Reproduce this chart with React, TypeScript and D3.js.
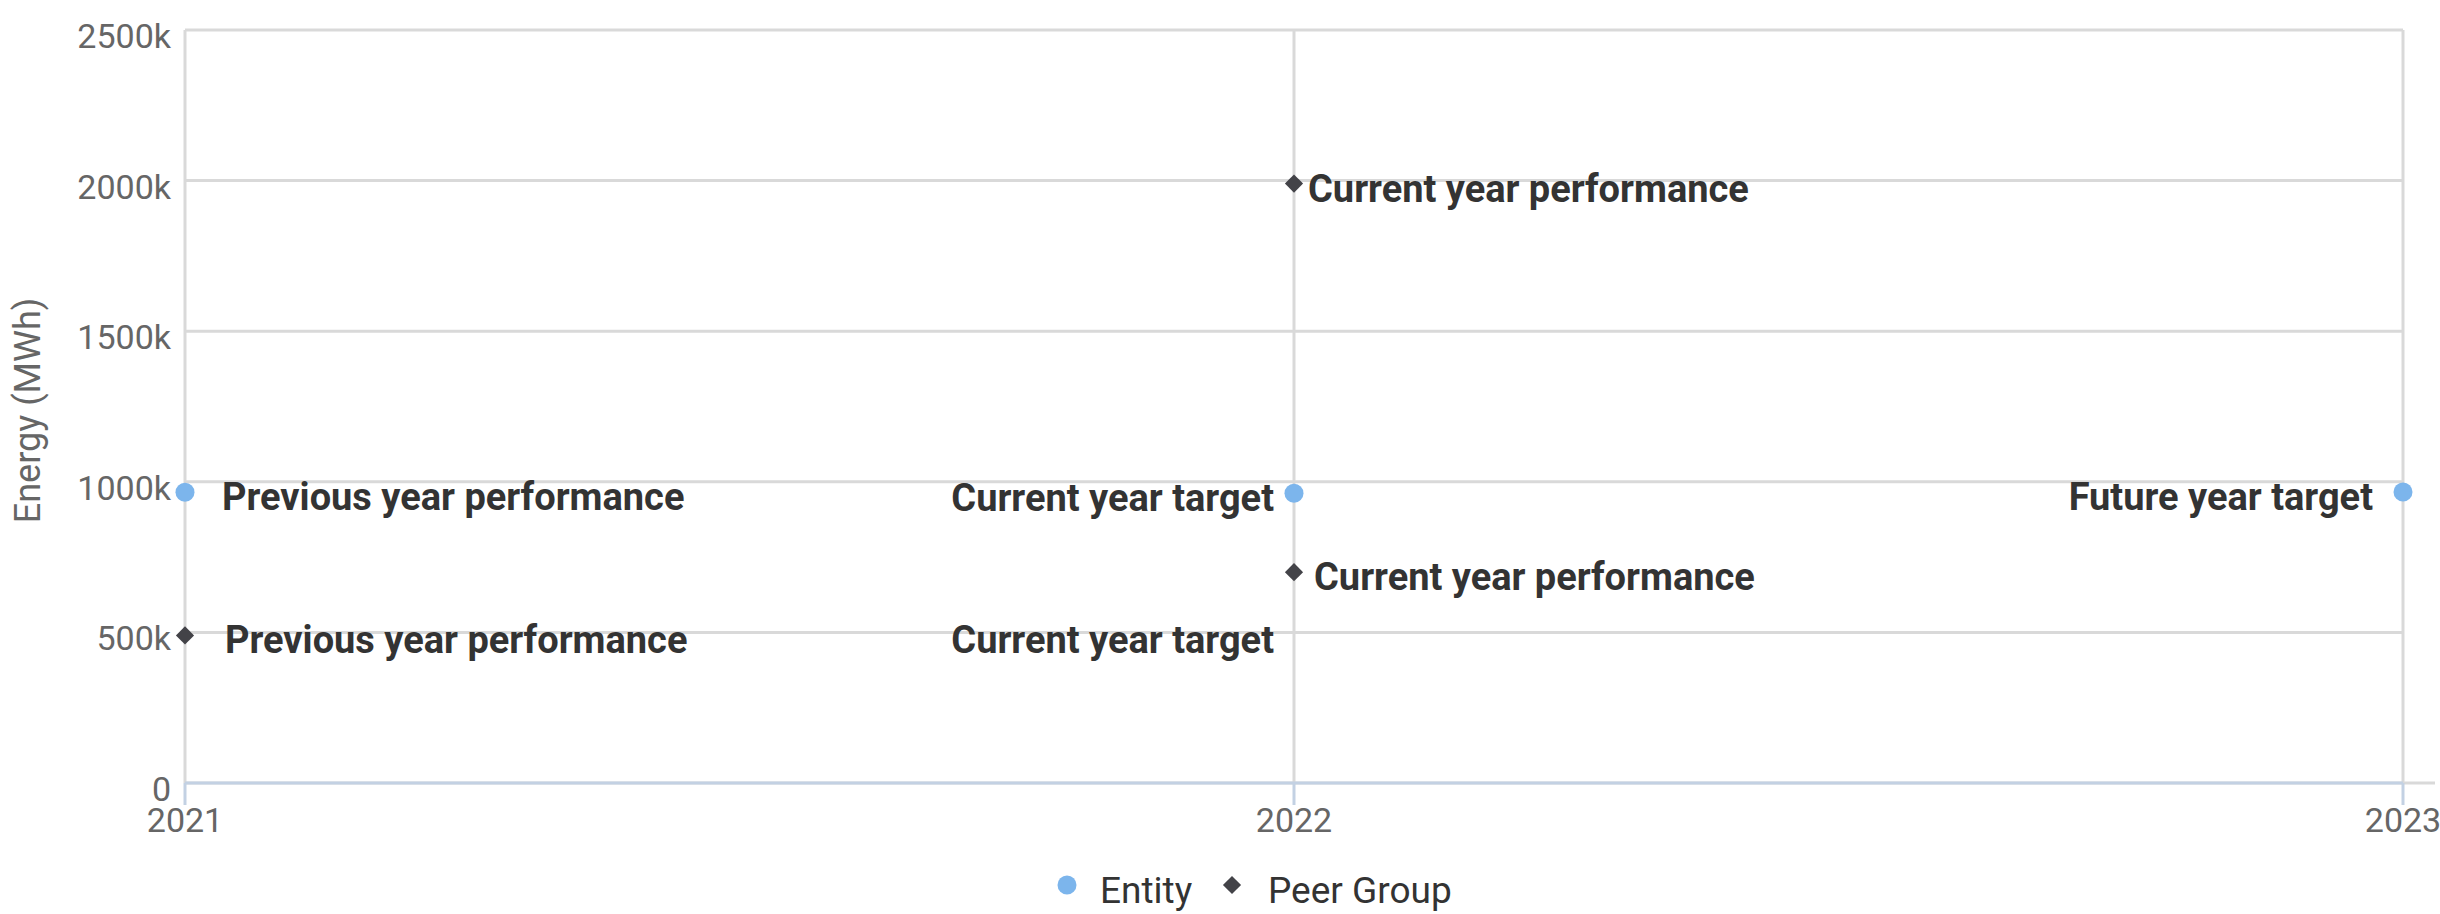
import * as d3 from 'd3';
import React from 'react';

// categories and values
const years = ['2021', '2022', '2023'];
const yTicks = [0, 500000, 1000000, 1500000, 2000000, 2500000];

const entityYears = ['2021', '2022', '2023'];
const entityValues = [965000, 962000, 966000];
const entityLabels = ['Previous year performance', 'Current year target', 'Future year target'];

const peerYears = ['2021', '2022', '2022', '2022'];
const peerValues = [490000, 490000, 700000, 1990000];
const peerLabels = [
	'Previous year performance',
	'Current year target',
	'Current year performance',
	'Current year performance',
];
const peerMarker = [true, false, true, true];

const width = 2440;
const height = 914;
const plot = { left: 185, right: 2403, top: 30, bottom: 783 };

// label offsets from their point (layout only)
const entityShift = [37, -20, -30];
const peerShift = [40, -20, 20, 14];

const entityColor = '#7cb5ec';
const peerColor = '#434348';
const gridColor = '#d9d9d9';
const axisColor = '#c3d1e3';
const labelFont = 'Roboto, "Noto Sans", sans-serif';

const App = () => {
	const x = d3.scalePoint<string>().domain(years).range([plot.left, plot.right]);
	const y = d3.scaleLinear().domain([0, 2500000]).range([plot.bottom, plot.top]);
	const fmt = (v: number) => (v === 0 ? '0' : `${v / 1000}k`);
	const square = d3.symbol().type(d3.symbolSquare).size(165)() as string;

	const dataLabel = (text: string, px: number, py: number, dx: number, key: string) => (
		<text
			key={key}
			x={px + dx}
			y={py + 18}
			textAnchor={dx < 0 ? 'end' : 'start'}
			fontFamily={labelFont}
			fontWeight="bold"
			fontSize={38}
			fill="#333333"
		>
			{text}
		</text>
	);

	return (
		<svg width={width} height={height} style={{ position: 'absolute', left: 0, top: 0, background: '#fff' }}>
			{/* grid */}
			{yTicks.map(t => (
				<line
					key={'h' + t}
					x1={plot.left}
					x2={t === 0 ? 2435 : plot.right}
					y1={y(t)}
					y2={y(t)}
					stroke={gridColor}
					strokeWidth={3}
				/>
			))}
			{years.map(yr => (
				<line
					key={'v' + yr}
					x1={x(yr)}
					x2={x(yr)}
					y1={plot.top}
					y2={plot.bottom}
					stroke={gridColor}
					strokeWidth={3}
				/>
			))}
			{/* x axis */}
			<line x1={plot.left} x2={plot.right} y1={plot.bottom} y2={plot.bottom} stroke={axisColor} strokeWidth={3} />
			{years.map(yr => (
				<g key={'xt' + yr} transform={`translate(${x(yr)},0)`}>
					<line y1={plot.bottom} y2={plot.bottom + 22} stroke={axisColor} strokeWidth={3} />
					<text y={plot.bottom + 49} textAnchor="middle" fontFamily={labelFont} fontSize={34} fill="#666666">
						{yr}
					</text>
				</g>
			))}
			{/* y axis labels */}
			{yTicks.map(t => (
				<text
					key={'yt' + t}
					x={plot.left - 14}
					y={y(t) + 18}
					textAnchor="end"
					fontFamily={labelFont}
					fontSize={34}
					fill="#666666"
				>
					{fmt(t)}
				</text>
			))}
			<text
				transform={`translate(40,${(plot.top + plot.bottom) / 2 + 4}) rotate(-90)`}
				textAnchor="middle"
				fontFamily={labelFont}
				fontSize={36}
				fill="#666666"
			>
				Energy (MWh)
			</text>

			{/* peer group */}
			{peerYears.map((yr, i) =>
				peerMarker[i] ? (
					<path
						key={'pm' + i}
						d={square}
						transform={`translate(${x(yr)},${y(peerValues[i])}) rotate(45)`}
						fill={peerColor}
					/>
				) : null
			)}
			{peerYears.map((yr, i) => dataLabel(peerLabels[i], x(yr) as number, y(peerValues[i]), peerShift[i], 'pl' + i))}

			{/* entity */}
			{entityYears.map((yr, i) => (
				<circle key={'em' + i} cx={x(yr)} cy={y(entityValues[i])} r={9.5} fill={entityColor} />
			))}
			{entityYears.map((yr, i) =>
				dataLabel(entityLabels[i], x(yr) as number, y(entityValues[i]), entityShift[i], 'el' + i)
			)}

			{/* legend */}
			<g fontFamily={labelFont} fontSize={37} fill="#333333">
				<circle cx={1067} cy={885} r={9.5} fill={entityColor} />
				<text x={1100} y={903}>Entity</text>
				<path d={square} transform="translate(1232,885) rotate(45)" fill={peerColor} />
				<text x={1268} y={903}>Peer Group</text>
			</g>
		</svg>
	);
};

export default App;
